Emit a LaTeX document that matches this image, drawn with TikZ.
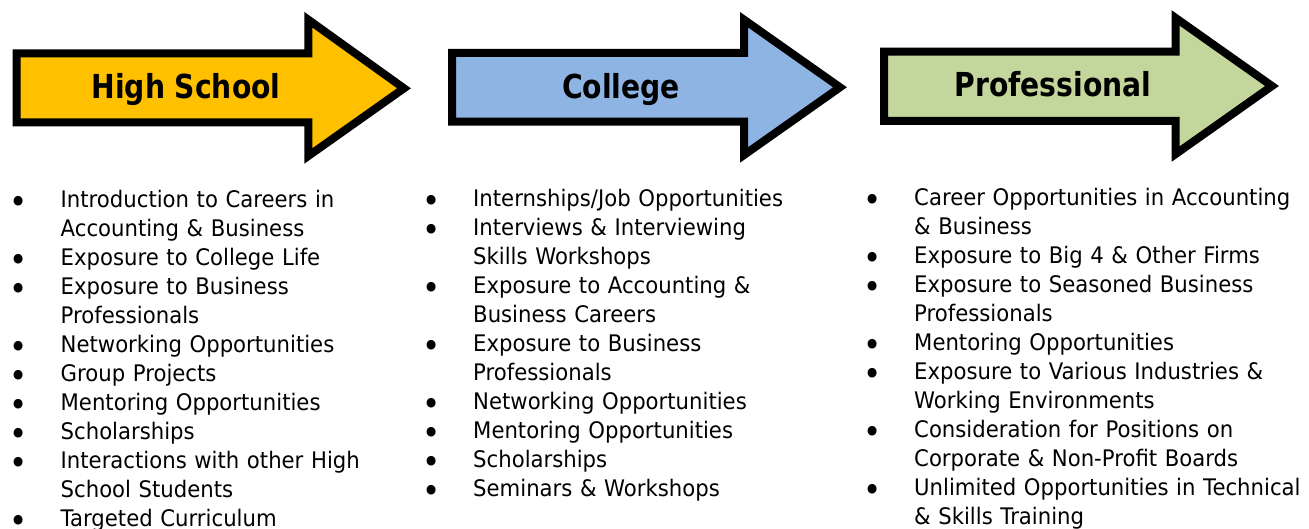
\documentclass[tikz,border=0pt]{standalone}
\usepackage{fontspec}
\setmainfont{DejaVu Sans}[FakeStretch=0.93]
\newfontfamily\titlefont{DejaVu Sans}[FakeStretch=0.855]

\newlength{\du}
\setlength{\du}{1pt}

\definecolor{hsyellow}{rgb}{1.000000, 0.752941, 0.000000}
\definecolor{colblue}{rgb}{0.556863, 0.705882, 0.890196}
\definecolor{progreen}{rgb}{0.764706, 0.839216, 0.607843}

% bullet list, bullet centred 42du left of the text
\newcommand{\stagebullet}{\raisebox{-6\du}[0pt][0pt]{\scalebox{1.45}{\textbullet}}}
\newcommand{\stageitems}[1]{%
\begin{list}{\stagebullet}{%
\setlength{\leftmargin}{42\du}\setlength{\labelwidth}{0pt}%
\setlength{\labelsep}{42\du}\setlength{\itemsep}{0pt}%
\setlength{\parsep}{0pt}\setlength{\topsep}{0pt}%
\setlength{\partopsep}{0pt}%
\renewcommand{\makelabel}[1]{\hbox to 0pt{\hss##1\hss}}}%
#1\end{list}}

\tikzset{
  stagearrow/.style={draw=black, line width=8\du, miter limit=20, line join=miter},
  stagelabel/.style={anchor=base, inner sep=0pt, font=\fontsize{33}{40}\selectfont\titlefont\bfseries},
  itemlist/.style={anchor=base west, inner sep=0pt, text width=460\du, align=left,
    font=\fontsize{22.8}{29}\selectfont}
}

\begin{document}
\begin{tikzpicture}[yscale=-1]
\useasboundingbox (0\du,0\du) rectangle (1309\du,529\du);
% High School
\draw[stagearrow, fill=hsyellow] (16.7\du,53.3\du)--(308.3\du,53.3\du)--(308.3\du,19.7\du)
  --(404\du,88.3\du)--(308.3\du,156\du)--(308.3\du,122.5\du)--(16.7\du,122.5\du)--cycle;
\node[stagelabel] (hs) at (186\du,99\du){High School};
% College
\draw[stagearrow, fill=colblue] (452\du,53\du)--(744\du,53\du)--(744\du,19.7\du)
  --(840\du,87.3\du)--(744\du,155\du)--(744\du,121.7\du)--(452\du,121.7\du)--cycle;
\node[stagelabel] (col) at (621\du,99\du){College};
% Professional
\draw[stagearrow, fill=progreen] (884\du,51.7\du)--(1175.7\du,51.7\du)--(1175.7\du,18\du)
  --(1272\du,86\du)--(1175.7\du,154\du)--(1175.7\du,120.8\du)--(884\du,120.8\du)--cycle;
\node[stagelabel] (prof) at (1053\du,96.7\du){Professional};
% lists
\node[itemlist] (hslist) at (18.5\du,178.5\du){\stageitems{%
\item Introduction to Careers in\\Accounting \& Business
\item Exposure to College Life
\item Exposure to Business\\Professionals
\item Networking Opportunities
\item Group Projects
\item Mentoring Opportunities
\item Scholarships
\item Interactions with other High\\School Students
\item Targeted Curriculum}};
\node[itemlist] (collist) at (431\du,177.5\du){\stageitems{%
\item Internships/Job Opportunities
\item Interviews \& Interviewing\\Skills Workshops
\item Exposure to Accounting \&\\Business Careers
\item Exposure to Business\\Professionals
\item Networking Opportunities
\item Mentoring Opportunities
\item Scholarships
\item Seminars \& Workshops}};
\node[itemlist] (proflist) at (872\du,177\du){\stageitems{%
\item Career Opportunities in Accounting\\\& Business
\item Exposure to Big 4 \& Other Firms
\item Exposure to Seasoned Business\\Professionals
\item Mentoring Opportunities
\item Exposure to Various Industries \&\\Working Environments
\item Consideration for Positions on\\Corporate \& Non-Profit Boards
\item Unlimited Opportunities in Technical\\\& Skills Training}};
\end{tikzpicture}
\end{document}
